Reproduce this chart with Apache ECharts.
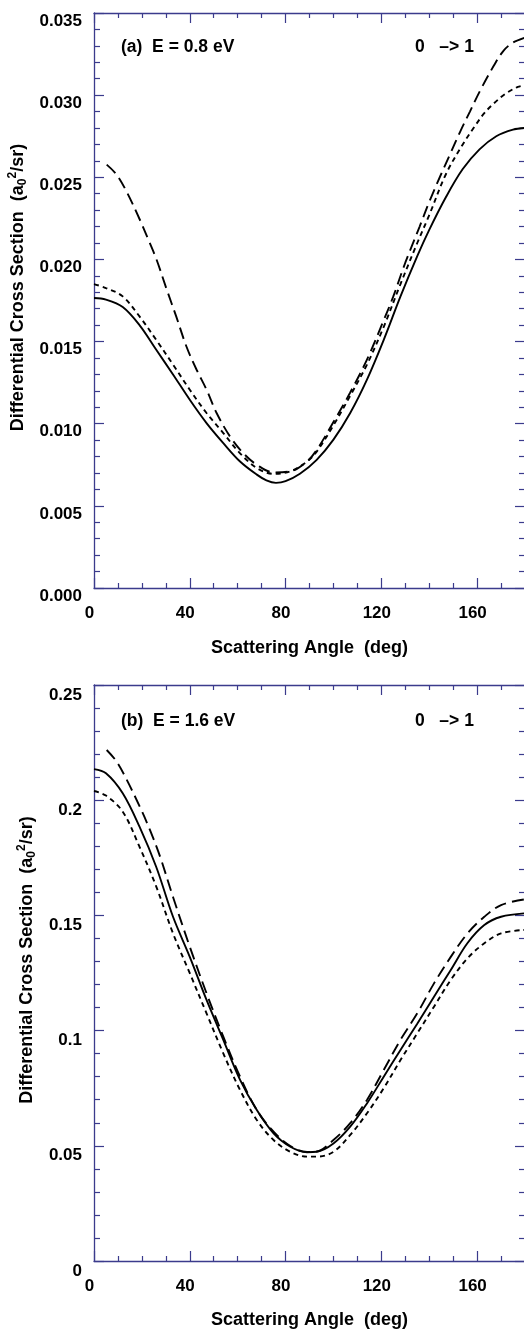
<!DOCTYPE html>
<html>
<head>
<meta charset="utf-8">
<script src="https://cdn.jsdelivr.net/npm/echarts@6/dist/echarts.min.js"></script>
<style>
html,body{margin:0;padding:0;background:#fff;}
#chart{width:524px;height:1331px;}
</style>
</head>
<body>
<div id="chart"></div>
<script>
// ---------- DATA ----------
// Panel (a): E = 0.8 eV  (values in a0^2/sr)
var angA_solid = [0,5,12,19,26,33,40,47,54,61,68,72,76,80,86,93,100,107,114,121,128,135,140,147,154,161,168,175,180];
var valA_solid = [0.01765,0.01755,0.0171,0.0160,0.0145,0.0130,0.01146,0.01004,0.00882,0.0077,0.0069,0.00655,0.0064,0.0065,0.00695,0.0078,0.00903,0.01065,0.01268,0.0151,0.01775,0.0202,0.0218,0.0238,0.0255,0.0267,0.0275,0.0279,0.0280];

var angA_short = [0,5,12,19,26,33,40,47,54,61,68,75,82,89,93,100,107,114,121,128,135,140,147,154,159,163,167,172,177,180];
var valA_short = [0.0185,0.01826,0.01775,0.01653,0.0151,0.0136,0.01207,0.01065,0.00943,0.0082,0.0073,0.00695,0.0071,0.0077,0.0083,0.0099,0.0117,0.0136,0.0159,0.0185,0.0210,0.0227,0.0252,0.0270,0.0281,0.0289,0.0295,0.0301,0.0305,0.0306];

var angA_long = [5.3,9.5,13.7,19.2,22.7,26.1,30.3,34.4,38.6,42.8,47,51.2,56.9,62.4,68,75,81.9,88.9,93,100,107,114,121,125,130,136,140,145,149,153,157,161,167,171,175,180];
var valA_long = [0.02577,0.02515,0.0241,0.0224,0.0212,0.0200,0.0182,0.0165,0.0147,0.0133,0.01207,0.01065,0.0092,0.0082,0.0075,0.00704,0.0071,0.0077,0.0084,0.0101,0.0119,0.0139,0.0163,0.01775,0.0198,0.0220,0.0235,0.0252,0.0265,0.0278,0.0290,0.0302,0.0318,0.0327,0.0332,0.0335];

// Panel (b): E = 1.6 eV
var angB_solid = [0,5,12,19,26,33,40,47,54,61,68,75,82,89,93,100,107,114,121,128,135,142,149,156,163,170,180];
var valB_solid = [0.2135,0.2117,0.203,0.1885,0.171,0.1494,0.132,0.1133,0.096,0.0786,0.0655,0.0554,0.0496,0.0472,0.0474,0.051,0.0583,0.0684,0.080,0.0916,0.103,0.1147,0.1263,0.138,0.1458,0.1494,0.1509];

var angB_short = [0,5,12,19,26,33,40,47,54,61,68,75,82,89,93,100,107,114,121,128,135,142,149,156,163,170,180];
var valB_short = [0.204,0.202,0.195,0.1798,0.1625,0.1422,0.1249,0.1075,0.0901,0.0742,0.0612,0.0525,0.0474,0.0453,0.0453,0.0474,0.0547,0.0641,0.075,0.0872,0.0988,0.1104,0.122,0.1314,0.1379,0.1422,0.1437];

var angB_long = [5.3,9.5,13.7,19.2,23.4,27.6,33,40,47,54,61,68,75,82,89,93,100,107,114,121,128,135,142,149,156,163,170,180];
var valB_long = [0.2218,0.2167,0.2088,0.197,0.187,0.1755,0.158,0.1364,0.1162,0.0974,0.080,0.0655,0.0561,0.0499,0.0473,0.0475,0.0525,0.0598,0.0699,0.0829,0.096,0.1075,0.1205,0.132,0.1422,0.1494,0.1545,0.157];

var xTicks = {min:0, max:180, interval:40};
var yTicksA = {min:0, max:0.035, interval:0.005};
var yTicksB = {min:0, max:0.25, interval:0.05};
var panelLabels = ['(a)  E = 0.8 eV', '(b)  E = 1.6 eV'];
var transitionLabel = '0   \u2013> 1';
var xTitle = 'Scattering Angle  (deg)';
var yTitle = 'Differential Cross Section  (a{sub|0}{sup|2}/sr)';

// ---------- CHART ----------
function pairs(xs, ys){ return xs.map(function(x,i){ return [x, ys[i]]; }); }

var AX = '#3b3b8c';
var FONT = '"Liberation Sans", Arial, Helvetica, sans-serif';

function xAxisDef(grid, pos, showLabels, gap){
  return {
    type:'value', gridIndex:grid, position:pos,
    min:xTicks.min, max:xTicks.max, interval:xTicks.interval,
    axisLine:{show:true, onZero:false, lineStyle:{color:AX, width:1.3}},
    axisTick:{show:true, inside:true, length:10, lineStyle:{color:AX, width:1.2}},
    minorTick:{show:true, splitNumber:4, length:5, lineStyle:{color:AX, width:1.2}},
    splitLine:{show:false}, minorSplitLine:{show:false},
    axisLabel:{show:showLabels, color:'#000', fontWeight:'bold', fontSize:17, fontFamily:FONT,
      margin:16, lineHeight:18, padding:[0,9,0,0],
      formatter:function(v){ return v >= 180 ? '' : String(v); }},
    name: showLabels ? xTitle : '',
    nameLocation:'middle', nameGap:gap || 50,
    nameTextStyle:{color:'#000', fontWeight:'bold', fontSize:18, fontFamily:FONT}
  };
}
function yAxisDef(grid, pos, showLabels, t, fmt, lh){
  return {
    type:'value', gridIndex:grid, position:pos,
    min:t.min, max:t.max, interval:t.interval,
    axisLine:{show:true, onZero:false, lineStyle:{color:AX, width:1.3}},
    axisTick:{show:true, inside:true, length:10, lineStyle:{color:AX, width:1.2}},
    minorTick:{show:true, splitNumber:5, length:6, lineStyle:{color:AX, width:1.2}},
    splitLine:{show:false}, minorSplitLine:{show:false},
    axisLabel:{show:showLabels, color:'#000', fontWeight:'bold', fontSize:17, fontFamily:FONT,
      margin:12, verticalAlign:'top', lineHeight:lh, formatter:fmt},
    name: showLabels ? yTitle : '',
    nameLocation:'middle', nameGap:52, nameRotate:90,
    nameTextStyle:{color:'#000', fontWeight:'bold', fontSize:18, fontFamily:FONT, lineHeight:22,
      padding:[0,0,0,26],
      rich:{
        sub:{fontSize:12, fontWeight:'bold', fontFamily:FONT, color:'#000', verticalAlign:'bottom', lineHeight:22},
        sup:{fontSize:12, fontWeight:'bold', fontFamily:FONT, color:'#000', verticalAlign:'top', lineHeight:22}
      }}
  };
}
function lineSeries(name, xi, yi, data, dash){
  return {
    name:name, type:'line', xAxisIndex:xi, yAxisIndex:yi, data:data,
    smooth:0.35, showSymbol:false, symbol:'none', silent:true,
    lineStyle:{color:'#000', width:1.9, type:dash}
  };
}

var chart = echarts.init(document.getElementById('chart'), null, {renderer:'canvas'});
var option = {
  backgroundColor:'#fff',
  animation:false,
  grid:[
    {left:94, top:13, width:431, height:575, containLabel:false, outerBoundsMode:'none'},
    {left:94, top:685, width:431, height:576, containLabel:false, outerBoundsMode:'none'}
  ],
  xAxis:[
    xAxisDef(0,'bottom',true,51), xAxisDef(0,'top',false),
    xAxisDef(1,'bottom',true,50), xAxisDef(1,'top',false)
  ],
  yAxis:[
    yAxisDef(0,'left',true,yTicksA,function(v){return v.toFixed(3);},16),
    yAxisDef(0,'right',false,yTicksA,null,16),
    yAxisDef(1,'left',true,yTicksB,function(v){return String(parseFloat(v.toFixed(2)));},20),
    yAxisDef(1,'right',false,yTicksB,null,20)
  ],
  series:[
    lineSeries('solid (a)',0,0,pairs(angA_solid,valA_solid),'solid'),
    lineSeries('short dash (a)',0,0,pairs(angA_short,valA_short),[5,4]),
    lineSeries('long dash (a)',0,0,pairs(angA_long,valA_long),[12,6]),
    lineSeries('solid (b)',2,2,pairs(angB_solid,valB_solid),'solid'),
    lineSeries('short dash (b)',2,2,pairs(angB_short,valB_short),[5,4]),
    lineSeries('long dash (b)',2,2,pairs(angB_long,valB_long),[12,6])
  ],
  graphic:[
    {type:'text', x:121, y:47, style:{text:panelLabels[0], font:'bold 17.5px '+FONT, fill:'#000', verticalAlign:'middle'}},
    {type:'text', x:415, y:47, style:{text:transitionLabel, font:'bold 17.5px '+FONT, fill:'#000', verticalAlign:'middle'}},
    {type:'text', x:121, y:721, style:{text:panelLabels[1], font:'bold 17.5px '+FONT, fill:'#000', verticalAlign:'middle'}},
    {type:'text', x:415, y:721, style:{text:transitionLabel, font:'bold 17.5px '+FONT, fill:'#000', verticalAlign:'middle'}}
  ]
};
chart.setOption(option);
</script>
</body>
</html>
